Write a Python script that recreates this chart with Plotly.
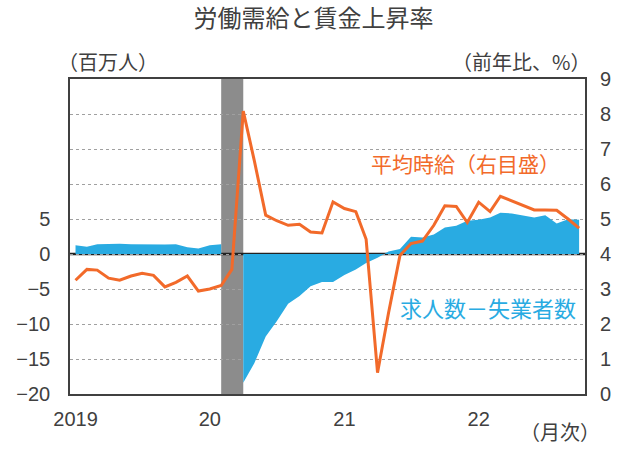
import pandas as pd
import plotly.graph_objects as go

# ---- data ----
months = pd.date_range("2019-01-01", periods=46, freq="MS")

# 求人数－失業者数 (百万人), left axis; March 2020 hidden behind the shaded period
job_gap = [1.25, 1.05, 1.39, 1.48, 1.48, 1.39, 1.34, 1.29, 1.34, 1.39, 0.96, 0.77,
           1.25, 1.39, None, -18.4, -15.6, -11.8, -9.6, -7.1, -6.0, -4.6, -4.0, -4.0,
           -3.0, -2.2, -1.3, -0.55, 0.35, 0.7, 2.45, 2.35, 2.8, 3.8, 4.05, 4.74,
           4.89, 5.2, 5.9, 5.8, 5.46, 5.2, 5.55, 4.36, 4.98, 4.89]

# 平均時給 前年比 (%), right axis
wage_growth = [3.25, 3.56, 3.54, 3.31, 3.25, 3.37, 3.45, 3.39, 3.06, 3.19, 3.37, 2.94,
               3.00, 3.10, 3.56, 8.08, 6.67, 5.11, 4.95, 4.82, 4.85, 4.63, 4.60, 5.49,
               5.30, 5.21, 4.42, 0.61, 2.32, 3.96, 4.30, 4.37, 4.82, 5.38, 5.36, 4.90,
               5.48, 5.21, 5.65, 5.52, 5.38, 5.26, 5.26, 5.25, 5.00, 4.74]

shade_start, shade_end = "2020-02-01", "2020-04-01"

x_tickvals = ["2019-01-01", "2020-01-01", "2021-01-01", "2022-01-01"]
x_ticktext = ["2019", "20", "21", "22"]
left_ticks = [-20, -15, -10, -5, 0, 5]
right_ticks = list(range(0, 10))

BLUE = "#29ABE2"
ORANGE = "#F26A2A"
TEXT = "#404040"
FONT = "Liberation Sans, Arial, Noto Sans CJK JP"
CJK = "Noto Sans CJK JP"

fig = go.Figure()

# split the area series at missing values so each part fills separately
segments, cur = [], []
for m, v in zip(months, job_gap):
    if v is None:
        if cur:
            segments.append(cur)
        cur = []
    else:
        cur.append((m, v))
if cur:
    segments.append(cur)

for seg in segments:
    fig.add_trace(go.Scatter(x=[s[0] for s in seg], y=[s[1] for s in seg],
                             mode="lines", fill="tozeroy",
                             line=dict(width=0, color=BLUE), fillcolor=BLUE,
                             yaxis="y", hoverinfo="skip", showlegend=False))

fig.add_trace(go.Scatter(x=months, y=wage_growth, mode="lines",
                         line=dict(width=3, color=ORANGE), yaxis="y2",
                         showlegend=False))

fig.add_shape(type="rect", xref="x", yref="paper", x0=shade_start, x1=shade_end,
              y0=0, y1=1, fillcolor="#8C8C8C", line=dict(width=0), layer="between")
fig.add_shape(type="line", xref="paper", yref="y", x0=0, x1=1, y0=0, y1=0,
              line=dict(color="#222222", width=2.5), layer="between")

fig.update_layout(
    width=627, height=459,
    margin=dict(l=70, r=42, t=79, b=65, autoexpand=False),
    paper_bgcolor="white", plot_bgcolor="white",
    font=dict(family=FONT, color=TEXT, size=20),
    title=dict(text="労働需給と賃金上昇率", x=0.5, xanchor="center",
               y=1 - 19 / 459, yanchor="middle",
               font=dict(family=CJK, size=24, color=TEXT)),
    xaxis=dict(type="date", range=["2018-12-17", "2022-10-17"],
               tickvals=x_tickvals, ticktext=x_ticktext, ticks="",
               showgrid=False, zeroline=False, automargin=False,
               showline=True, mirror=True, linecolor="#404040", linewidth=1.5,
               tickfont=dict(size=20, color=TEXT, family=FONT),
               ticklabelstandoff=6),
    yaxis=dict(range=[-20, 25], tickvals=left_ticks, ticks="",
               showgrid=False, zeroline=False, automargin=False,
               showline=True, mirror=True, linecolor="#404040", linewidth=1.5,
               tickfont=dict(size=20, color=TEXT, family=FONT),
               ticklabelstandoff=14),
    yaxis2=dict(range=[0, 9], tickvals=right_ticks, overlaying="y", side="right",
                ticks="", showgrid=True, gridcolor="#A0A0A0", griddash="dot",
                gridwidth=1, zeroline=False, showline=False, automargin=False,
                tickfont=dict(size=20, color=TEXT, family=FONT),
                ticklabelstandoff=14),
)

def px(xp):
    return (xp - 70) / 515

def py(yp):
    return (394 - yp) / 315

anns = [
    ("（百万人）", 108, 62, TEXT, 20),
    ("（前年比、%）", 521, 62, TEXT, 20),
    ("（月次）", 560, 431, TEXT, 20),
    ("平均時給（右目盛）", 465, 163, ORANGE, 21),
    ("求人数－失業者数", 488, 307, BLUE, 22),
]
for text, xx, yy, col, sz in anns:
    fig.add_annotation(text=text, xref="paper", yref="paper", x=px(xx), y=py(yy),
                       xanchor="center", yanchor="middle", showarrow=False,
                       font=dict(family=CJK, size=sz, color=col))

fig.write_html("out.html", config={"displayModeBar": False},
               post_script="document.body.style.margin='0';document.body.style.padding='0';")
